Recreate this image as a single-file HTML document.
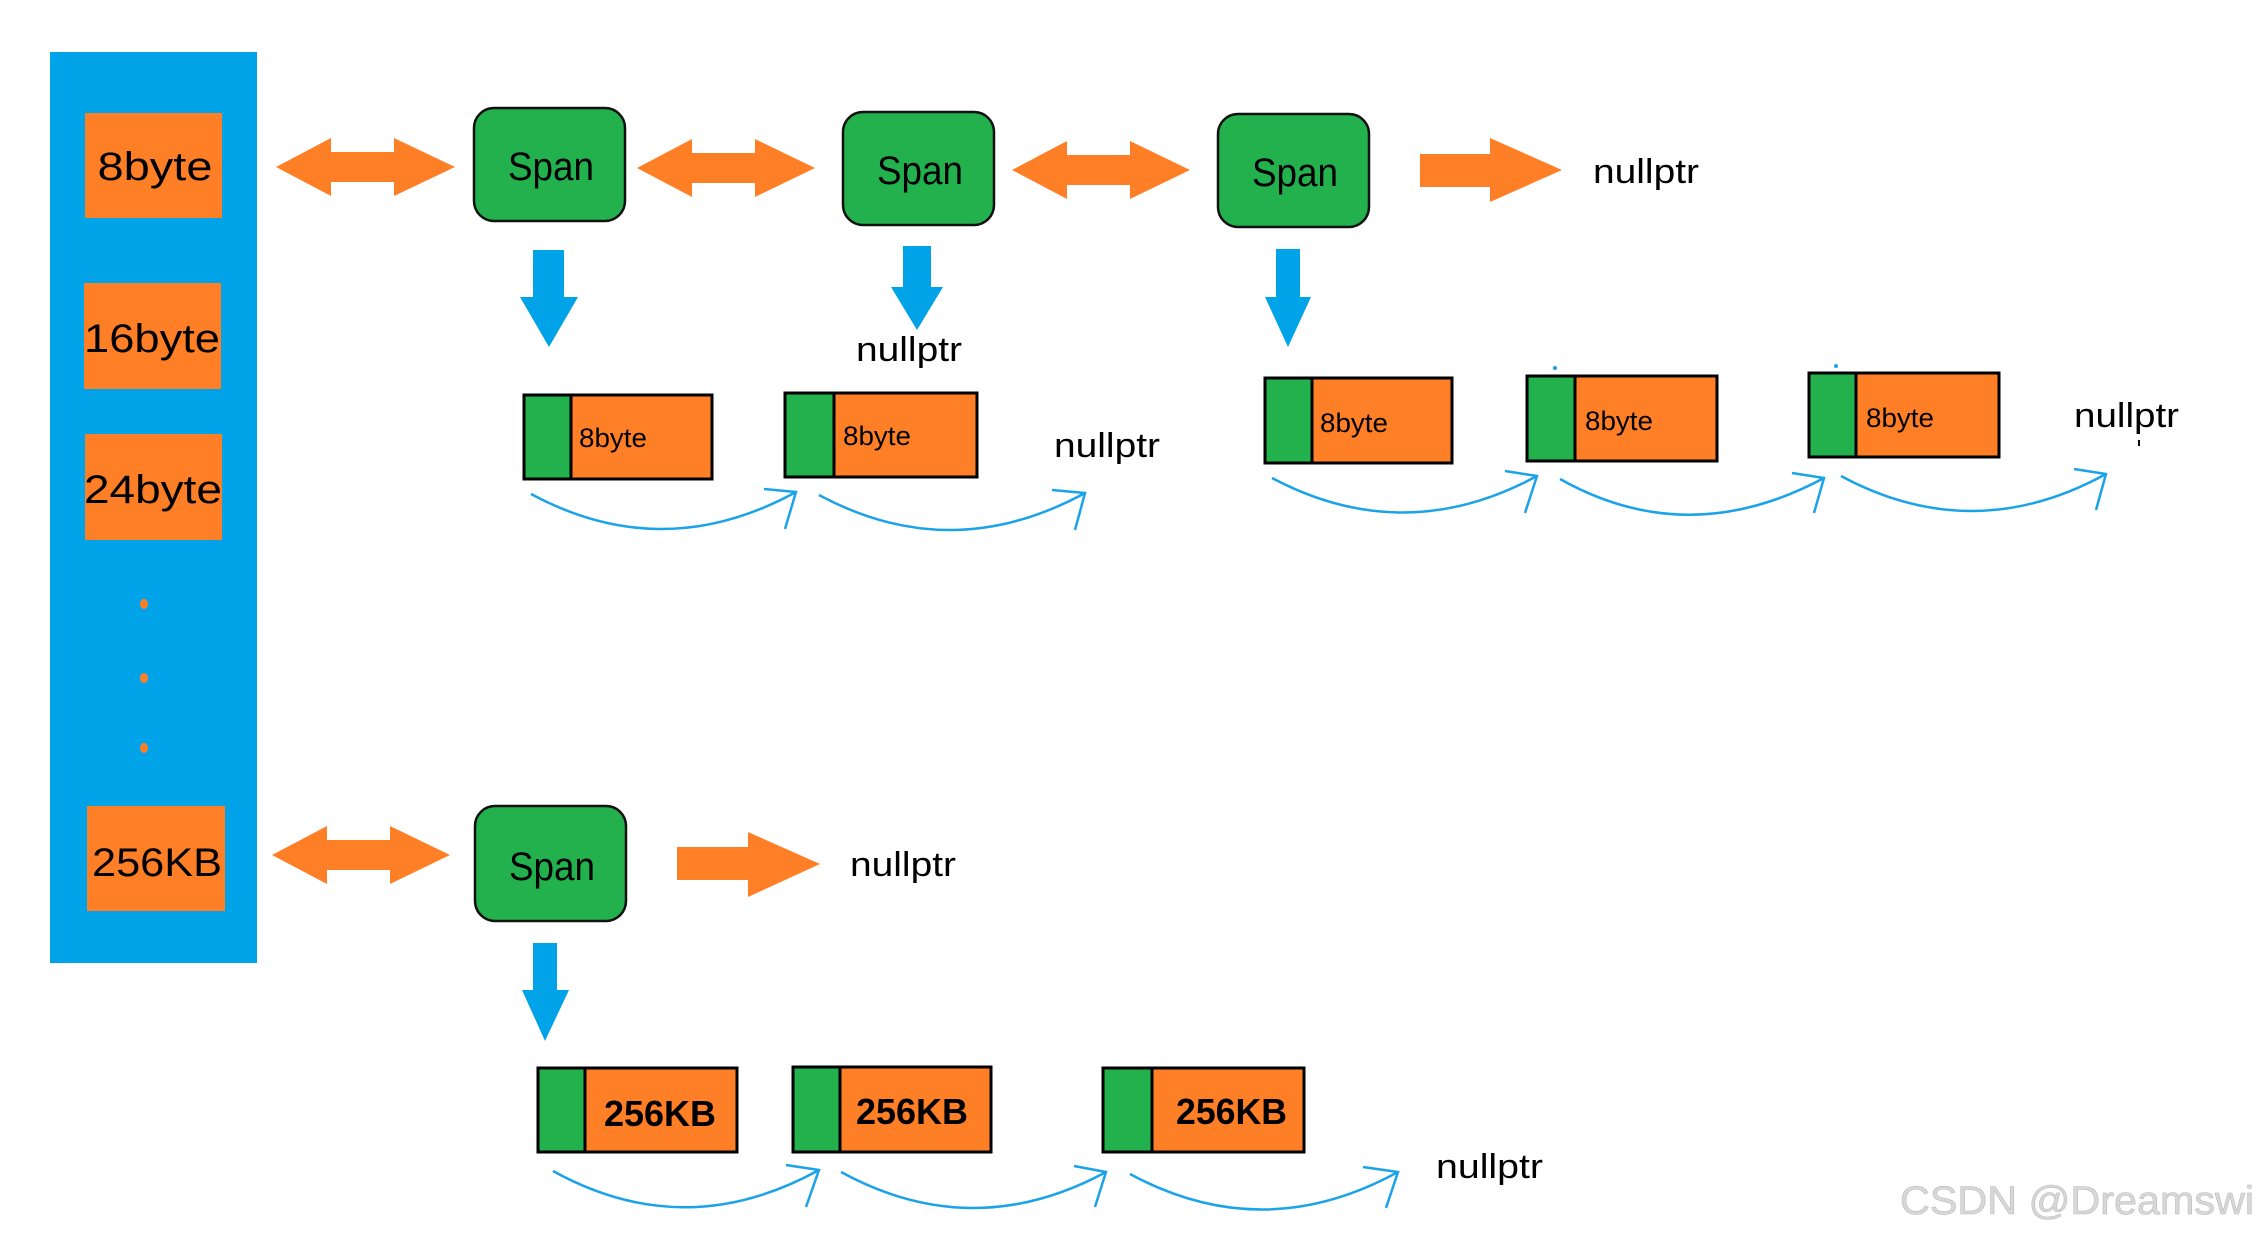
<!DOCTYPE html>
<html><head><meta charset="utf-8"><style>
html,body{margin:0;padding:0;background:#fff;}
svg{display:block;}
text{font-family:"Liberation Sans",sans-serif;}
</style></head><body>
<svg width="2261" height="1238" viewBox="0 0 2261 1238" xmlns="http://www.w3.org/2000/svg">
<rect x="50" y="52" width="207" height="911" fill="#00a2e8"/>
<g fill="#ff7f27">
<rect x="85" y="113" width="137" height="105"/>
<rect x="84" y="283" width="137" height="106"/>
<rect x="85" y="434" width="137" height="106"/>
<rect x="87" y="806" width="138" height="105"/>
<ellipse cx="144" cy="604" rx="4" ry="5"/>
<ellipse cx="144" cy="678" rx="4" ry="5"/>
<ellipse cx="144" cy="748" rx="4" ry="5"/>
</g>
<g font-size="40" fill="#000" text-anchor="middle">
<text x="155" y="180" textLength="115" lengthAdjust="spacingAndGlyphs">8byte</text>
<text x="152" y="352" textLength="136" lengthAdjust="spacingAndGlyphs">16byte</text>
<text x="153" y="503" textLength="138" lengthAdjust="spacingAndGlyphs">24byte</text>
<text x="157" y="876" textLength="130" lengthAdjust="spacingAndGlyphs">256KB</text>
</g>
<!-- orange double arrows -->
<g fill="#ff7f27">
<polygon points="276,167 331,138 331,152 394,152 394,138 455,167 394,196 394,182 331,182 331,196"/>
<polygon points="637,168 692,139 692,153 755,153 755,139 815,168 755,197 755,183 692,183 692,197"/>
<polygon points="1012,170 1067,141 1067,155 1130,155 1130,141 1190,170 1130,199 1130,185 1067,185 1067,199"/>
<polygon points="1420,154 1490,154 1490,138 1562,170 1490,202 1490,187 1420,187"/>
<polygon points="272,855 327,826 327,840 390,840 390,826 450,855 390,884 390,870 327,870 327,884"/>
<polygon points="677,847 748,847 748,832 820,864 748,897 748,880 677,880"/>
</g>
<!-- spans -->
<g fill="#22b14c" stroke="#111" stroke-width="2.5">
<rect x="474" y="108" width="151" height="113" rx="20"/>
<rect x="843" y="112" width="151" height="113" rx="20"/>
<rect x="1218" y="114" width="151" height="113" rx="20"/>
<rect x="475" y="806" width="151" height="115" rx="20"/>
</g>
<g font-size="40" fill="#000" text-anchor="middle">
<text x="551" y="180" textLength="86" lengthAdjust="spacingAndGlyphs">Span</text>
<text x="920" y="184" textLength="86" lengthAdjust="spacingAndGlyphs">Span</text>
<text x="1295" y="186" textLength="86" lengthAdjust="spacingAndGlyphs">Span</text>
<text x="552" y="880" textLength="86" lengthAdjust="spacingAndGlyphs">Span</text>
</g>
<!-- blue down arrows -->
<g fill="#00a2e8">
<polygon points="533,250 564,250 564,297 578,297 549,347 520,297 533,297"/>
<polygon points="903,246 931,246 931,287 943,287 917,330 891,287 903,287"/>
<polygon points="1276,249 1300,249 1300,297 1311,297 1288,347 1265,297 1276,297"/>
<polygon points="533,943 557,943 557,990 569,990 545,1041 522,990 533,990"/>
</g>
<!-- nullptr labels -->
<g font-size="34" fill="#000">
<text x="1593" y="183" textLength="106" lengthAdjust="spacingAndGlyphs">nullptr</text>
<text x="856" y="361" textLength="106" lengthAdjust="spacingAndGlyphs">nullptr</text>
<text x="1054" y="457" textLength="106" lengthAdjust="spacingAndGlyphs">nullptr</text>
<text x="2074" y="427" textLength="105" lengthAdjust="spacingAndGlyphs">nullptr</text>
<text x="850" y="876" textLength="106" lengthAdjust="spacingAndGlyphs">nullptr</text>
<text x="1436" y="1178" textLength="107" lengthAdjust="spacingAndGlyphs">nullptr</text>
</g>
<!-- small blocks -->
<g stroke="#000" stroke-width="3">
<rect x="524" y="395" width="188" height="84" fill="#ff7f27"/><rect x="524" y="395" width="47" height="84" fill="#22b14c"/>
<rect x="785" y="393" width="192" height="84" fill="#ff7f27"/><rect x="785" y="393" width="49" height="84" fill="#22b14c"/>
<rect x="1265" y="378" width="187" height="85" fill="#ff7f27"/><rect x="1265" y="378" width="47" height="85" fill="#22b14c"/>
<rect x="1527" y="376" width="190" height="85" fill="#ff7f27"/><rect x="1527" y="376" width="48" height="85" fill="#22b14c"/>
<rect x="1809" y="373" width="190" height="84" fill="#ff7f27"/><rect x="1809" y="373" width="47" height="84" fill="#22b14c"/>
<rect x="538" y="1068" width="199" height="84" fill="#ff7f27"/><rect x="538" y="1068" width="47" height="84" fill="#22b14c"/>
<rect x="793" y="1067" width="198" height="85" fill="#ff7f27"/><rect x="793" y="1067" width="47" height="85" fill="#22b14c"/>
<rect x="1103" y="1068" width="201" height="84" fill="#ff7f27"/><rect x="1103" y="1068" width="49" height="84" fill="#22b14c"/>
</g>
<g font-size="27" fill="#000">
<text x="579" y="447" textLength="68" lengthAdjust="spacingAndGlyphs">8byte</text>
<text x="843" y="445" textLength="68" lengthAdjust="spacingAndGlyphs">8byte</text>
<text x="1320" y="432" textLength="68" lengthAdjust="spacingAndGlyphs">8byte</text>
<text x="1585" y="430" textLength="68" lengthAdjust="spacingAndGlyphs">8byte</text>
<text x="1866" y="427" textLength="68" lengthAdjust="spacingAndGlyphs">8byte</text>
</g>
<g font-size="36" font-weight="bold" fill="#000">
<text x="604" y="1126" textLength="112" lengthAdjust="spacingAndGlyphs">256KB</text>
<text x="856" y="1124" textLength="112" lengthAdjust="spacingAndGlyphs">256KB</text>
<text x="1176" y="1124" textLength="111" lengthAdjust="spacingAndGlyphs">256KB</text>
</g>
<!-- curves -->
<g fill="none" stroke="#1aa3e8" stroke-width="2.5">
<path d="M531,494 Q663,565 796,492 M764,489 L796,492 L785,529"/>
<path d="M819,495 Q951,566 1085,493 M1052,490 L1085,493 L1075,530"/>
<path d="M1272,478 Q1404,548 1537,476 M1505,471 L1537,476 L1525,513"/>
<path d="M1560,479 Q1688,551 1824,478 M1792,473 L1824,478 L1814,513"/>
<path d="M1841,476 Q1973,547 2106,474 M2074,469 L2106,474 L2096,510"/>
<path d="M553,1171 Q685,1244 819,1170 M786,1165 L819,1170 L806,1207"/>
<path d="M841,1172 Q973,1244 1106,1172 M1074,1166 L1106,1172 L1095,1207"/>
<path d="M1130,1174 Q1263,1246 1398,1172 M1363,1167 L1398,1172 L1386,1208"/>
</g>
<circle cx="1555" cy="368" r="2" fill="#1aa3e8"/>
<circle cx="1836" cy="366" r="2" fill="#1aa3e8"/>
<rect x="2138" y="440" width="2" height="6" fill="#000"/>
<text x="1900" y="1214" font-size="40" fill="#d8d8d8" stroke="#bbb" stroke-width="0.6" textLength="354" lengthAdjust="spacingAndGlyphs">CSDN @Dreamswi</text>
</svg>
</body></html>
